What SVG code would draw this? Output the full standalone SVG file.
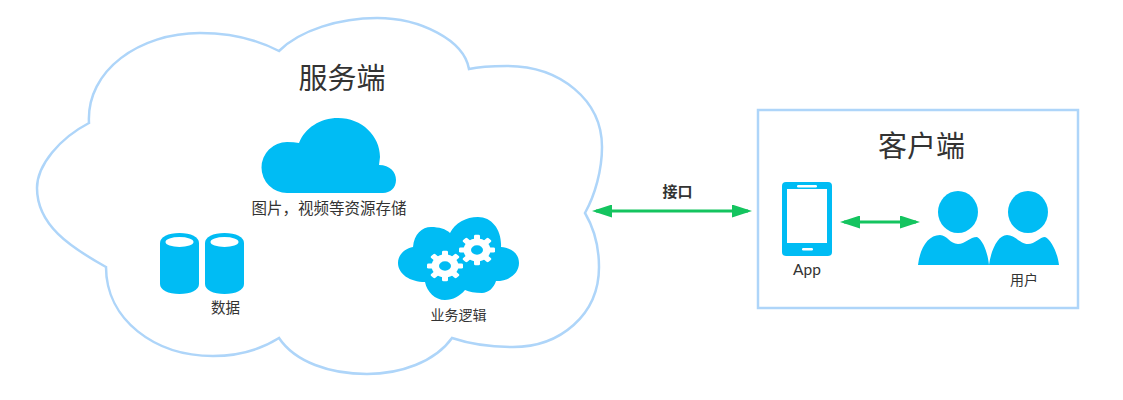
<svg xmlns="http://www.w3.org/2000/svg" xmlns:xlink="http://www.w3.org/1999/xlink" width="1123" height="400" viewBox="0 0 1123 400">
<style>
.t{font-family:"Noto Sans CJK SC","Liberation Sans",sans-serif;fill:#333;text-anchor:middle}
.b{fill:#00bcf4}
.o{fill:none;stroke:#aed5f9;stroke-width:2.500}
.c{fill:none;stroke:#14c45f;stroke-width:3;marker-start:url(#ah);marker-end:url(#ah)}
</style>
<defs>
<marker id="ah" viewBox="0 0 20 13" refX="16" refY="6.500" markerUnits="userSpaceOnUse" markerWidth="20" markerHeight="13" orient="auto-start-reverse"><path d="M0 0L20 6.500L0 13Z" fill="#14c45f"/></marker>
<g id="gear" fill="#fff"><circle r="13.500"/><rect x="-3" y="-18" width="6" height="36" rx="1.500"/><rect x="-3" y="-18" width="6" height="36" rx="1.500" transform="rotate(45)"/><rect x="-3" y="-18" width="6" height="36" rx="1.500" transform="rotate(90)"/><rect x="-3" y="-18" width="6" height="36" rx="1.500" transform="rotate(135)"/><ellipse rx="6" ry="5.500" class="b"/></g>
<g id="cyl"><path class="b" d="M0 243C0 237 8 233 19.500 233S39 237 39 243V284C39 290 31 294 19.500 294S0 290 0 284Z"/><ellipse cx="19.500" cy="242" rx="14" ry="5" fill="#fff"/></g>
</defs>
<rect width="1123" height="400" fill="#fff"/>
<g id="server">
<path class="o" d="M89 123C86 70 140 33 200 33C230 33 258 40 279 51C300 30 340 18 377 18C420 18 464 40 469 69C482 66 495 66 507 66C560 66 602 100 602 147C602 170 595 195 585 213C595 230 599 250 599 267C599 315 560 347 513 347C490 347 470 344 452 338C435 362 400 374 367 374C330 374 295 362 279 338C260 350 238 356 213 356C155 356 106 320 106 267C70 247 37 225 37 188C37 165 60 138 89 123Z"/>
<text class="t" x="342" y="89" font-size="29">服务端</text>
</g>
<g id="storage">
<path class="b" d="M287 193A25.500 25.500 0 0 1 287 142Q294 142 299 143C305 128 320 118 338 118C362 118 380 136 380 157L379 165C390 165 396 172 396 180C396 188 390 193 383 193Z"/>
<text class="t" x="329" y="214" font-size="15.500">图片，视频等资源存储</text>
</g>
<g id="data">
<use xlink:href="#cyl" x="160"/><use xlink:href="#cyl" x="205"/>
<text class="t" x="225.500" y="313" font-size="14.500">数据</text>
</g>
<g id="logic">
<path class="b" d="M413 247C414 234 422 227 431 227C439 227 446 229 450 233C455 223 466 217 478 217C492 217 502 230 501 247C512 248 519 254 519 263C519 273 510 281 496 281C494 288 488 293 482 293C475 293 469 292 465 290C460 296 453 300 445 300C435 300 427 292 425 282C410 282 398 274 398 263C398 255 404 249 413 247Z"/>
<use xlink:href="#gear" transform="translate(445 266) scale(1 .85)"/><use xlink:href="#gear" transform="translate(477 250) scale(1 .85)"/>
<text class="t" x="458.500" y="320" font-size="14">业务逻辑</text>
</g>
<g id="client">
<rect class="o" x="758" y="110" width="320" height="198"/>
<text class="t" x="921.500" y="157" font-size="29">客户端</text>
</g>
<g id="app">
<rect class="b" x="782" y="182" width="50" height="74" rx="4"/>
<rect x="787" y="189" width="40" height="54" fill="#fff"/>
<rect x="797" y="185" width="20" height="2.500" rx="1.200" fill="#fff"/>
<rect x="802" y="248" width="11" height="2.500" rx="1.200" fill="#fff"/>
<text x="807" y="275" font-size="15.500" fill="#333" text-anchor="middle" font-family="Lato,'Liberation Sans',sans-serif">App</text>
</g>
<g id="users">
<ellipse class="b" cx="958" cy="212" rx="20" ry="21"/><ellipse class="b" cx="1028" cy="212" rx="20" ry="21"/>
<path class="b" d="M918 265C920 248 928 235 940 235C947 235 950 244 958 244C965 244 970 237 977 237C984 241 988 255 989 265C991 250 998 235 1007 235C1015 235 1020 244 1028 244C1035 244 1040 237 1045 237C1052 240 1058 255 1059 265Z"/>
<text class="t" x="1024" y="285" font-size="14">用户</text>
</g>
<g id="connectors">
<path class="c" d="M596 211H748"/>
<path class="c" d="M844 222H916"/>
</g>
<text class="t" x="677.500" y="197" font-size="15" font-weight="700">接口</text>
</svg>
